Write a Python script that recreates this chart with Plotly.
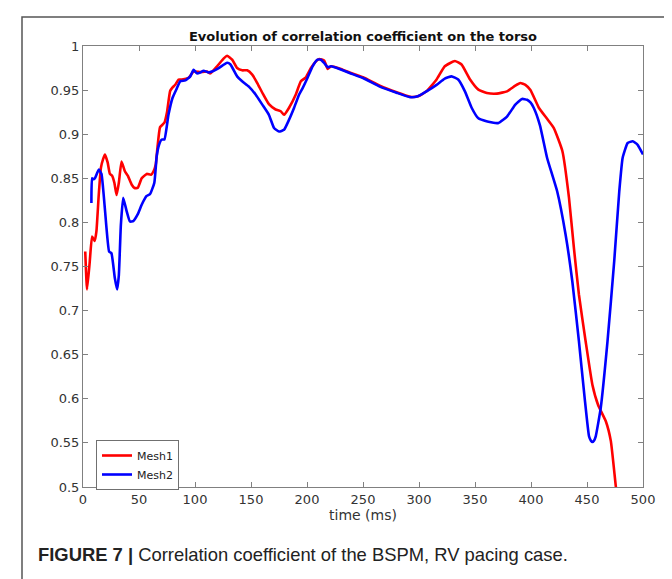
import plotly.graph_objects as go

# ---------------- data ----------------
mesh1_t = [2, 3.6, 6, 8.1, 10.5, 12, 14, 16, 18, 19.6, 22, 24, 26, 28, 30, 32, 34.4, 37.4, 40, 43.4,
           46, 48.8, 52.4, 56.9, 60.7, 63, 65, 66.5, 68.8, 72.7, 75, 77.8, 80, 82.3, 85.3, 88.3, 94.3,
           98.7, 104.7, 110.7, 113.7, 119.7, 125.7, 128.7, 133.2, 137.6, 142.1, 146.6, 151.1, 155.6,
           160.1, 166, 172, 176.5, 179.5, 184, 190, 194.5, 199, 203.5, 208, 211, 215.4, 218.4, 221.5,
           229, 238, 250, 265, 280, 292, 299, 306.7, 315.7, 323, 332, 338, 345.6, 353, 360.6, 369.6,
           378.6, 386, 390.5, 395, 399.5, 407, 414, 420.4, 428, 433.9, 438.3, 442.8, 448.8, 454.8,
           459.9, 466.8, 471.3, 475.8, 477]
mesh1_v = [0.767, 0.724, 0.755, 0.784, 0.779, 0.790, 0.830, 0.862, 0.872, 0.877, 0.868, 0.855, 0.853,
           0.845, 0.831, 0.845, 0.869, 0.858, 0.853, 0.843, 0.839, 0.839, 0.850, 0.855, 0.854, 0.858,
           0.866, 0.885, 0.908, 0.913, 0.925, 0.949, 0.953, 0.956, 0.962, 0.962, 0.964, 0.971, 0.9705,
           0.971, 0.969, 0.977, 0.986, 0.989, 0.9845, 0.975, 0.9724, 0.9724, 0.9675, 0.958, 0.947,
           0.934, 0.928, 0.926, 0.922, 0.930, 0.945, 0.960, 0.9645, 0.975, 0.9826, 0.9853, 0.9834,
           0.974, 0.977, 0.9745, 0.970, 0.9645, 0.955, 0.9475, 0.9425, 0.943, 0.9486, 0.962, 0.977,
           0.983, 0.979, 0.962, 0.9505, 0.9467, 0.946, 0.9486, 0.955, 0.958, 0.956, 0.950, 0.930,
           0.918, 0.907, 0.881, 0.828, 0.771, 0.718, 0.665, 0.616, 0.593, 0.5745, 0.552, 0.500, 0.490]

mesh2_t = [7.5, 8.1, 9.5, 11, 14.1, 16.5, 19.5, 23.3, 25.4, 28.4, 30.5, 32, 33.8, 35.9, 38.9, 41.9,
           44.9, 48.8, 52.4, 56.8, 59.8, 63.7, 65.8, 67.9, 70.3, 72.7, 76.3, 79.9, 83.8, 86.8, 91.3,
           95.8, 98.7, 101.7, 104.7, 107.7, 112.2, 115.2, 121.2, 128.7, 131.7, 137.6, 142.1, 148.1,
           154.1, 160.1, 166, 170.6, 175, 179.5, 184, 188.5, 193, 196, 200.5, 205, 209.4, 212.4,
           215.4, 218.4, 221.5, 229, 238, 250, 265, 280, 292, 299, 306.7, 315.7, 323, 329, 335, 341,
           347, 353, 362, 371, 378.6, 386, 392, 396.5, 399.5, 402.4, 408, 414.4, 423.4, 430.9, 436.9,
           442.8, 447.9, 451.8, 453.5, 454.8, 456.2, 457.8, 462.3, 468.3, 474.3, 478.8, 481.8, 486.3,
           490.8, 495.2, 500]
mesh2_v = [0.822, 0.850, 0.849, 0.851, 0.860, 0.855, 0.816, 0.767, 0.765, 0.737, 0.724, 0.740, 0.797,
           0.828, 0.813, 0.801, 0.8015, 0.809, 0.820, 0.830, 0.832, 0.845, 0.875, 0.888, 0.894, 0.894,
           0.922, 0.941, 0.952, 0.960, 0.961, 0.9656, 0.973, 0.969, 0.970, 0.972, 0.970, 0.971, 0.975,
           0.981, 0.979, 0.9656, 0.960, 0.954, 0.945, 0.9335, 0.922, 0.907, 0.903, 0.905, 0.9165, 0.930,
           0.945, 0.952, 0.964, 0.977, 0.9845, 0.9845, 0.9807, 0.976, 0.977, 0.974, 0.9694, 0.9637,
           0.954, 0.947, 0.942, 0.943, 0.9486, 0.956, 0.963, 0.9656, 0.962, 0.9486, 0.930, 0.918,
           0.914, 0.9127, 0.920, 0.9335, 0.940, 0.939, 0.936, 0.930, 0.910, 0.873, 0.835, 0.786, 0.733,
           0.665, 0.601, 0.5575, 0.5525, 0.551, 0.5525, 0.5575, 0.590, 0.665, 0.756, 0.835, 0.873,
           0.890, 0.892, 0.888, 0.877]

x_ticks = [0, 50, 100, 150, 200, 250, 300, 350, 400, 450, 500]
y_ticks = [0.5, 0.55, 0.6, 0.65, 0.7, 0.75, 0.8, 0.85, 0.9, 0.95, 1.0]
y_tick_labels = ["0.5", "0.55", "0.6", "0.65", "0.7", "0.75", "0.8", "0.85", "0.9", "0.95", "1"]

series_names = ["Mesh1", "Mesh2"]
series_colors = ["#ff0000", "#0000ff"]

title_text = "Evolution of correlation coefficient on the torso"
x_label = "time (ms)"
caption_text = "<b>FIGURE 7 |</b> Correlation coefficient of the BSPM, RV pacing case."

assert len(mesh1_t) == len(mesh1_v)
assert len(mesh2_t) == len(mesh2_v)

# ---------------- figure ----------------
W, H = 672, 579
L, R, T, B = 75, 37, 38, 100
pw, ph = W - L - R, H - T - B


def px_x(p):
    return (p - L) / pw


def px_y(p):
    return 1 - (p - T) / ph


fig = go.Figure()
for t, v, name, col in [(mesh1_t, mesh1_v, series_names[0], series_colors[0]),
                        (mesh2_t, mesh2_v, series_names[1], series_colors[1])]:
    fig.add_trace(go.Scatter(x=t, y=v, mode="lines", name=name,
                             line=dict(color=col, width=2.6, shape="spline", smoothing=0.4)))

axis_common = dict(showgrid=False, zeroline=False, showline=True, linecolor="#808080",
                   linewidth=1, mirror="ticks", ticks="inside", ticklen=5,
                   tickcolor="#808080", tickfont=dict(family="DejaVu Sans", size=13, color="#333333"))

fig.update_xaxes(range=[0, 500], tickvals=x_ticks, ticktext=[str(x) for x in x_ticks],
                 title=dict(text=x_label, font=dict(family="DejaVu Sans", size=14, color="#333333"),
                            standoff=2),
                 **axis_common)
fig.update_yaxes(range=[0.5, 1.0], tickvals=y_ticks, ticktext=y_tick_labels, **axis_common)

fig.update_layout(
    width=W, height=H,
    margin=dict(l=L, r=R, t=T, b=B),
    paper_bgcolor="white", plot_bgcolor="white",
    title=dict(text="<b>" + title_text + "</b>", x=0.5, xref="paper", xanchor="center",
               y=1 - 28 / H, yanchor="middle",
               font=dict(family="DejaVu Sans", size=13, color="#111111")),
    legend=dict(x=px_x(88), y=px_y(432), xanchor="left", yanchor="top",
                bgcolor="white", bordercolor="#707070", borderwidth=1,
                font=dict(family="DejaVu Sans", size=11, color="#222222"),
                tracegroupgap=0),
    showlegend=True,
)

# outer figure frame
fig.add_shape(type="rect", xref="paper", yref="paper",
              x0=px_x(14), x1=px_x(669), y0=px_y(600), y1=px_y(9),
              line=dict(color="#555555", width=1.5), fillcolor="rgba(0,0,0,0)", layer="below")

fig.add_annotation(text=caption_text, xref="paper", yref="paper",
                   x=px_x(28), y=px_y(546), xanchor="left", yanchor="middle", showarrow=False,
                   font=dict(family="Liberation Sans, Arial", size=18.4, color="#222222"))

fig.write_html("out.html")
